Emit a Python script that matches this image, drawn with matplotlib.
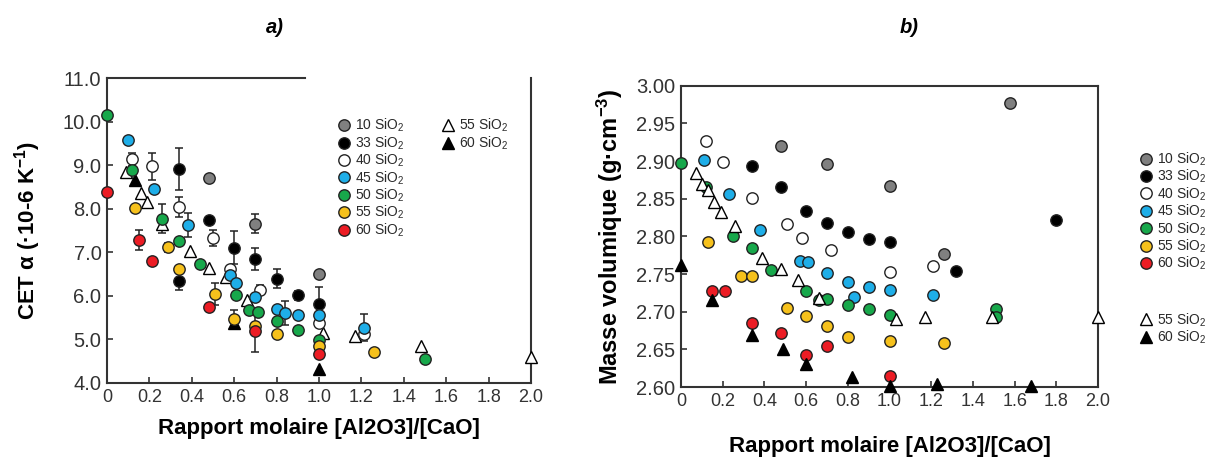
import numpy as np
import matplotlib
matplotlib.use("Agg")
import matplotlib.pyplot as plt
from matplotlib.lines import Line2D

plt.rcParams['font.family'] = ['Liberation Sans', 'DejaVu Sans']
plt.rcParams['mathtext.fontset'] = 'custom'
plt.rcParams['mathtext.rm'] = 'Liberation Sans'
plt.rcParams['mathtext.bf'] = 'Liberation Sans:bold'
plt.rcParams['mathtext.it'] = 'Liberation Sans:italic'
plt.rcParams['mathtext.default'] = 'regular'

# ---- a) CET vs molar ratio ----
a_x10 = [0.48, 0.70, 1.00]
a_y10 = [8.70, 7.66, 6.51]
a_e10 = [0, 0.22, 0]

a_x33 = [0.34, 0.34, 0.48, 0.60, 0.70, 0.80, 0.90, 1.00]
a_y33 = [8.91, 6.33, 7.75, 7.10, 6.85, 6.39, 6.01, 5.81]
a_e33 = [0.49, 0.20, 0, 0.38, 0.25, 0.22, 0.10, 0.40]

a_x40 = [0.12, 0.21, 0.34, 0.50, 0.58, 0.72, 1.00, 1.21]
a_y40 = [9.13, 8.97, 8.04, 7.33, 6.62, 6.14, 5.38, 5.12]
a_e40 = [0.15, 0.30, 0.24, 0.18, 0, 0.10, 0, 0]

a_x45 = [0.10, 0.22, 0.38, 0.58, 0.61, 0.70, 0.80, 0.84, 0.90, 1.00, 1.21]
a_y45 = [9.58, 8.46, 7.63, 6.49, 6.29, 5.97, 5.70, 5.61, 5.55, 5.55, 5.27]
a_e45 = [0, 0, 0.27, 0, 0, 0, 0, 0.28, 0, 0, 0.31]

a_x50 = [0.00, 0.12, 0.26, 0.34, 0.44, 0.61, 0.67, 0.71, 0.80, 0.90, 1.00, 1.50]
a_y50 = [10.16, 8.90, 7.77, 7.27, 6.73, 6.01, 5.67, 5.64, 5.42, 5.22, 4.99, 4.55]
a_e50 = [0, 0, 0.33, 0, 0, 0, 0, 0, 0, 0, 0, 0]

a_x55 = [0.13, 0.29, 0.34, 0.51, 0.60, 0.70, 0.80, 1.00, 1.26]
a_y55 = [8.02, 7.11, 6.62, 6.05, 5.48, 5.30, 5.12, 4.84, 4.70]
a_e55 = [0, 0.10, 0, 0.25, 0.19, 0, 0, 0, 0]

a_x60 = [0.00, 0.15, 0.21, 0.48, 0.70, 1.00]
a_y60 = [8.38, 7.29, 6.81, 5.74, 5.19, 4.66]
a_e60 = [0, 0.23, 0, 0, 0.48, 0]

a_xt55 = [0.09, 0.16, 0.19, 0.26, 0.39, 0.48, 0.56, 0.66, 1.02, 1.17, 1.48, 2.00]
a_yt55 = [8.85, 8.35, 8.15, 7.66, 7.02, 6.64, 6.43, 5.91, 5.15, 5.07, 4.85, 4.59]
a_xt60 = [0.13, 0.60, 1.00]
a_yt60 = [8.65, 5.38, 4.33]

# ---- b) density vs molar ratio ----
b_x10 = [0.48, 0.70, 1.00, 1.26, 1.58]
b_y10 = [2.920, 2.896, 2.867, 2.777, 2.977]
b_x33 = [0.34, 0.48, 0.60, 0.70, 0.80, 0.90, 1.00, 1.32, 1.80]
b_y33 = [2.893, 2.865, 2.834, 2.818, 2.806, 2.796, 2.792, 2.754, 2.822]
b_x40 = [0.12, 0.20, 0.34, 0.51, 0.58, 0.72, 1.00, 1.21]
b_y40 = [2.927, 2.899, 2.851, 2.817, 2.798, 2.782, 2.753, 2.761]
b_x45 = [0.11, 0.23, 0.38, 0.57, 0.61, 0.70, 0.80, 0.83, 0.90, 1.00, 1.21]
b_y45 = [2.901, 2.856, 2.809, 2.768, 2.766, 2.751, 2.740, 2.719, 2.733, 2.729, 2.722]
b_x50 = [0.00, 0.12, 0.25, 0.34, 0.43, 0.60, 0.66, 0.70, 0.80, 0.90, 1.00, 1.51, 1.51]
b_y50 = [2.897, 2.865, 2.801, 2.785, 2.756, 2.727, 2.716, 2.717, 2.709, 2.703, 2.696, 2.704, 2.693]
b_x55 = [0.13, 0.29, 0.34, 0.51, 0.60, 0.70, 0.80, 1.00, 1.26]
b_y55 = [2.793, 2.748, 2.748, 2.705, 2.695, 2.681, 2.666, 2.661, 2.658]
b_x60 = [0.15, 0.21, 0.34, 0.48, 0.60, 0.70, 1.00]
b_y60 = [2.727, 2.727, 2.685, 2.672, 2.643, 2.655, 2.615]
b_xt55 = [0.07, 0.10, 0.13, 0.16, 0.19, 0.26, 0.39, 0.48, 0.56, 0.66, 1.03, 1.17, 1.49, 2.00]
b_yt55 = [2.884, 2.870, 2.861, 2.846, 2.833, 2.814, 2.771, 2.757, 2.742, 2.718, 2.691, 2.693, 2.693, 2.693]
b_xt60 = [0.00, 0.15, 0.34, 0.49, 0.60, 0.82, 1.00, 1.23, 1.68]
b_yt60 = [2.762, 2.716, 2.669, 2.650, 2.630, 2.613, 2.601, 2.604, 2.602]

labels = ['10 SiO$_2$', '33 SiO$_2$', '40 SiO$_2$', '45 SiO$_2$',
          '50 SiO$_2$', '55 SiO$_2$', '60 SiO$_2$']
colors = ['#808080', '#000000', '#ffffff', '#1eaee8', '#17a84b', '#f6c11c', '#ec1c24']
tri_labels = ['55 SiO$_2$', '60 SiO$_2$']

EDGE = '#222222'
MS = 8.2
TXT = '#2a2a2a'


def style_axes(ax, ylim, yticks, yfmt):
    ax.set_xlim(0, 2.0)
    ax.set_ylim(*ylim)
    ax.set_xticks(np.arange(0, 2.01, 0.2))
    ax.set_xticklabels(['0'] + [f'{v:.1f}' for v in np.arange(0.2, 2.01, 0.2)])
    ax.set_yticks(yticks)
    ax.set_yticklabels([yfmt.format(v) for v in yticks])
    ax.tick_params(direction='in', length=4, width=1.2, colors='#333333', pad=4)
    ax.tick_params(axis='x', labelsize=13)
    ax.tick_params(axis='y', labelsize=14.5)
    for s in ax.spines.values():
        s.set_linewidth(1.5)
        s.set_color('#333333')


def legends(ax, circ_anchor, tri_anchor, fs=10):
    kw = dict(loc='upper left', frameon=False, fontsize=fs, handlelength=0.9,
              handletextpad=0.35, labelspacing=0.0, borderpad=0, borderaxespad=0,
              labelcolor=TXT)
    h1 = [Line2D([], [], ls='none', marker='o', ms=MS, mfc=c, mec=EDGE, mew=1)
          for c in colors]
    leg1 = ax.legend(h1, labels, bbox_to_anchor=circ_anchor, **kw)
    ax.add_artist(leg1)
    h2 = [Line2D([], [], ls='none', marker='^', ms=MS, mfc='white', mec='black', mew=1),
          Line2D([], [], ls='none', marker='^', ms=MS, mfc='black', mec='black', mew=1)]
    ax.legend(h2, tri_labels, bbox_to_anchor=tri_anchor, **kw)


fig = plt.figure(figsize=(12.16, 4.63), dpi=100)

# ---------------- a) ----------------
ax1 = fig.add_axes([0.088, 0.1728, 0.3487, 0.6587])
style_axes(ax1, (4.0, 11.0), np.arange(4.0, 11.01, 1.0), '{:.1f}')
ax1.spines['top'].set_bounds(0, 0.934)

ax1.plot(a_xt55, a_yt55, ls='none', marker='^', ms=MS, mfc='white', mec='black',
         mew=1, zorder=3, clip_on=False)
ax1.plot(a_xt60, a_yt60, ls='none', marker='^', ms=MS, mfc='black', mec='black',
         mew=1, zorder=3, clip_on=False)

a_series = [(a_x10, a_y10, a_e10), (a_x33, a_y33, a_e33), (a_x40, a_y40, a_e40),
            (a_x45, a_y45, a_e45), (a_x50, a_y50, a_e50), (a_x55, a_y55, a_e55),
            (a_x60, a_y60, a_e60)]
for (xs, ys, es), c in zip(a_series, colors):
    xs, ys, es = np.array(xs), np.array(ys), np.array(es)
    m = es > 0
    if m.any():
        ax1.errorbar(xs[m], ys[m], yerr=es[m], fmt='none', ecolor='#222222',
                     elinewidth=1.1, capsize=3, capthick=1.1, zorder=2)
    ax1.plot(xs, ys, ls='none', marker='o', ms=MS, mfc=c, mec=EDGE, mew=1,
             zorder=4, clip_on=False)

ax1.set_xlabel('Rapport molaire [Al2O3]/[CaO]', fontsize=16, fontweight='bold',
               labelpad=9)
ax1.set_ylabel(r'CET α (·10-6 K$^{\mathbf{-1}}$)', fontsize=16, fontweight='bold',
               labelpad=14)
legends(ax1, (0.544, 0.872), (0.789, 0.872))

# ---------------- b) ----------------
ax2 = fig.add_axes([0.56, 0.164, 0.343, 0.6508])
style_axes(ax2, (2.60, 3.00), np.arange(2.60, 3.001, 0.05), '{:.2f}')

b_series = [(b_x10, b_y10), (b_x33, b_y33), (b_x40, b_y40), (b_x45, b_y45),
            (b_x50, b_y50), (b_x55, b_y55), (b_x60, b_y60)]
for (xs, ys), c in zip(b_series, colors):
    ax2.plot(xs, ys, ls='none', marker='o', ms=MS, mfc=c, mec=EDGE, mew=1,
             zorder=3, clip_on=False)
ax2.plot(b_xt55, b_yt55, ls='none', marker='^', ms=MS, mfc='white', mec='black',
         mew=1, zorder=4, clip_on=False)
ax2.plot(b_xt60, b_yt60, ls='none', marker='^', ms=MS, mfc='black', mec='black',
         mew=1, zorder=4, clip_on=False)

ax2.set_xlabel('Rapport molaire [Al2O3]/[CaO]', fontsize=16, fontweight='bold',
               labelpad=19)
ax2.set_ylabel(r'Masse volumique (g·cm$^{\mathbf{-3}}$)', fontsize=17,
               fontweight='bold', labelpad=8)
legends(ax2, (1.099, 0.785), (1.099, 0.252))

fig.text(0.226, 0.94, 'a)', fontsize=14.5, fontweight='bold', style='italic',
         ha='center', va='center')
fig.text(0.748, 0.94, 'b)', fontsize=14.5, fontweight='bold', style='italic',
         ha='center', va='center')

fig.savefig('out.png', dpi=100)
